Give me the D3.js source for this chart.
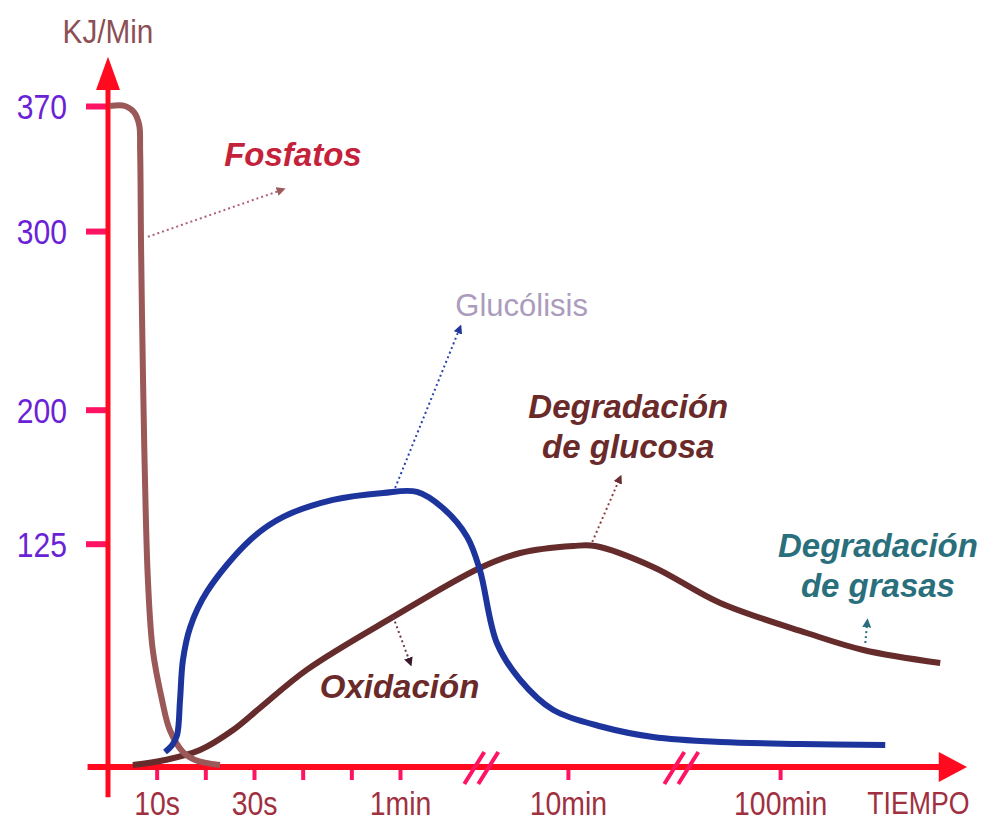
<!DOCTYPE html>
<html>
<head>
<meta charset="utf-8">
<script src="https://cdn.jsdelivr.net/npm/d3@7"></script>
<style>
  body { margin: 0; background: #fff; }
  svg { display: block; }
  .narrow { font-family: "Liberation Sans", Arial, sans-serif; }
  .lbl { font-family: "Liberation Sans", Arial, sans-serif; font-weight: bold; font-style: italic; }
</style>
</head>
<body>
<svg id="chart"></svg>
<script>
// time axis is in "tick units": 1 tick = 10 s up to 1 min, then broken axis
const timeTicks = [1, 2, 3, 4, 5, 6, 9.45, 13.81];
const timeLabels = ["10s", "", "30s", "", "", "1min", "10min", "100min"];
const axisBreaks = [7.67, 11.78];

const energyTicks = [125, 200, 300, 370];

// [time position, KJ/min]
const fosfatos = [
  [0.04, 370], [0.35, 370], [0.53, 366.7], [0.64, 359.5], [0.66, 345.5],
  [0.68, 289.5], [0.72, 216.7], [0.76, 160.7], [0.82, 104.7], [0.92, 65.5],
  [1.11, 37.5], [1.27, 20.7], [1.54, 8.4], [1.79, 3.9], [2.3, 1.1]
];
const glucolisis = [
  [1.17, 8.4], [1.32, 12.3], [1.42, 17.9], [1.48, 37.5], [1.54, 59.9],
  [1.69, 78.4], [2.03, 98], [2.92, 127.1], [3.6, 140], [4.62, 149.5],
  [5.65, 153.4], [6.35, 154], [6.88, 145], [7.38, 128.8], [7.64, 110.3],
  [7.99, 69.4], [8.47, 48.7], [9.15, 31.9], [10.17, 22.4], [11.2, 16.8],
  [12.58, 14], [14.22, 12.9], [15.97, 12.3]
];
const oxidacion = [
  [0.51, 1.1], [1.17, 3.9], [1.89, 9.5], [2.57, 20.7], [3.12, 33],
  [4.09, 54.5], [5.86, 84], [7.64, 111.4], [8.47, 119.8], [9.56, 123.7],
  [10.01, 123.7], [11.2, 112], [12.58, 91.8], [14.36, 75], [15.52, 65.5],
  [17.1, 58.2]
];

// annotation arrows: from [t, kj] to [t, kj]
const arrows = [
  { from: [0.82, 296.8], to: [3.58, 323.1], color: "#b0607a", head: "#9c5a5a" },
  { from: [5.9, 156.2], to: [7.23, 245.8], color: "#2a44a8", head: "#1f3799" },
  { from: [9.95, 126], to: [10.52, 161.8], color: "#8a4040", head: "#6b2f2f" },
  { from: [5.86, 84], to: [6.21, 58.2], color: "#6b3a4a", head: "#3a1a2a" },
  { from: [15.56, 69.4], to: [15.6, 81.2], color: "#2a6f7c", head: "#2a6f7c" }
];

const labels = [
  { lines: ["Fosfatos"], t: 3.8, kj: 336.5, color: "#c4223a", bold: true },
  { lines: ["Glucólisis"], t: 8.5, kj: 252.5, color: "#ab9cbd", bold: false },
  { lines: ["Degradación", "de glucosa"], t: 10.69, kj: 195.4, color: "#6b2a2a", bold: true },
  { lines: ["Degradación", "de grasas"], t: 15.82, kj: 117.6, color: "#2a6f7c", bold: true },
  { lines: ["Oxidación"], t: 5.99, kj: 38.6, color: "#6b2a2a", bold: true }
];

var width = 987,
  height = 823;
var svg = d3.select("#chart").attr("width", width).attr("height", height);

var x = d3.scaleLinear().domain([0, 17.65]).range([108, 967]);
var y = d3.scaleLinear().domain([0, 370]).range([767, 106]);

var axisRed = "#ff0a1e",
  tickPink = "#ff1464";

// squeeze a text horizontally so it looks like a narrow font
function narrow(sel, k) {
  sel.each(function () {
    var w = this.getComputedTextLength();
    if (w > 0) {
      d3.select(this)
        .attr("textLength", w * k)
        .attr("lengthAdjust", "spacingAndGlyphs");
    }
  });
}

// arrow markers
var defs = svg.append("defs");
arrows.forEach(function (a, i) {
  defs
    .append("marker")
    .attr("id", "head" + i)
    .attr("viewBox", "0 0 10 10")
    .attr("refX", 6)
    .attr("refY", 5)
    .attr("markerWidth", 9)
    .attr("markerHeight", 9)
    .attr("markerUnits", "userSpaceOnUse")
    .attr("orient", "auto")
    .append("path")
    .attr("d", "M0,0 L10,5 L0,10 Z")
    .attr("fill", a.head);
});

// y ticks + labels
var yAxis = svg
  .append("g")
  .attr("transform", "translate(" + x(0) + ",0)")
  .call(d3.axisLeft(y).tickValues(energyTicks).tickSize(22).tickPadding(19));
yAxis.select(".domain").remove();
yAxis.selectAll(".tick line").attr("stroke", tickPink).attr("stroke-width", 6);
yAxis
  .selectAll(".tick text")
  .attr("class", "narrow")
  .attr("fill", "#6a22d6")
  .attr("font-size", 35)
  .attr("dy", "0.36em")
  .call(narrow, 0.86);

// x ticks + labels
var xAxis = svg
  .append("g")
  .attr("transform", "translate(0," + y(0) + ")")
  .call(
    d3
      .axisBottom(x)
      .tickValues(timeTicks)
      .tickSize(13)
      .tickFormat(function (d, i) {
        return timeLabels[i];
      })
  );
xAxis.select(".domain").remove();
xAxis.selectAll(".tick line").attr("stroke", tickPink).attr("stroke-width", 4);
xAxis
  .selectAll(".tick text")
  .attr("class", "narrow")
  .attr("fill", "#a03040")
  .attr("font-size", 33)
  .attr("y", 48)
  .attr("dy", 0)
  .call(narrow, 0.86);

// axis lines with arrowheads
svg
  .append("line")
  .attr("x1", x(0))
  .attr("x2", x(0))
  .attr("y1", y(-17))
  .attr("y2", y(388))
  .attr("stroke", axisRed)
  .attr("stroke-width", 5);
svg
  .append("path")
  .attr(
    "d",
    "M" + x(0) + "," + y(397.5) +
      "L" + (x(0) - 12) + "," + y(379) +
      "L" + (x(0) + 12) + "," + y(379) + "Z"
  )
  .attr("fill", axisRed);

svg
  .append("line")
  .attr("x1", x(-0.42))
  .attr("x2", x(17.2))
  .attr("y1", y(0))
  .attr("y2", y(0))
  .attr("stroke", axisRed)
  .attr("stroke-width", 6);
svg
  .append("path")
  .attr(
    "d",
    "M" + x(17.65) + "," + y(0) +
      "L" + x(17.07) + "," + (y(0) - 15) +
      "L" + x(17.07) + "," + (y(0) + 15) + "Z"
  )
  .attr("fill", axisRed);

// axis break marks //
axisBreaks.forEach(function (b) {
  [-7, 7].forEach(function (off) {
    svg
      .append("line")
      .attr("x1", x(b) + off - 10)
      .attr("y1", y(0) + 17)
      .attr("x2", x(b) + off + 10)
      .attr("y2", y(0) - 15)
      .attr("stroke", tickPink)
      .attr("stroke-width", 4);
  });
});

// TIEMPO and KJ/Min
svg
  .append("text")
  .attr("class", "narrow")
  .attr("x", x(16.65))
  .attr("y", y(0) + 47)
  .attr("text-anchor", "middle")
  .attr("font-size", 31)
  .attr("fill", "#a03040")
  .text("TIEMPO")
  .call(narrow, 0.86);
svg
  .append("text")
  .attr("class", "narrow")
  .attr("x", x(0))
  .attr("y", y(405.4))
  .attr("text-anchor", "middle")
  .attr("font-size", 33)
  .attr("fill", "#8c4f55")
  .text("KJ/Min")
  .call(narrow, 0.9);

// curves
var line = d3
  .line()
  .x(function (d) { return x(d[0]); })
  .y(function (d) { return y(d[1]); })
  .curve(d3.curveCatmullRom.alpha(0.5));

svg.append("path").datum(oxidacion).attr("d", line)
  .attr("fill", "none").attr("stroke", "#662c2c").attr("stroke-width", 6);
svg.append("path").datum(fosfatos).attr("d", line)
  .attr("fill", "none").attr("stroke", "#9b5858").attr("stroke-width", 6);
svg.append("path").datum(glucolisis).attr("d", line)
  .attr("fill", "none").attr("stroke", "#1c349c").attr("stroke-width", 6);

// dotted arrows
arrows.forEach(function (a, i) {
  svg
    .append("line")
    .attr("x1", x(a.from[0]))
    .attr("y1", y(a.from[1]))
    .attr("x2", x(a.to[0]))
    .attr("y2", y(a.to[1]))
    .attr("stroke", a.color)
    .attr("stroke-width", 2)
    .attr("stroke-dasharray", "2,3")
    .attr("marker-end", "url(#head" + i + ")");
});

// labels
labels.forEach(function (l) {
  var t = svg
    .append("text")
    .attr("class", l.bold ? "lbl" : "")
    .attr("font-family", "Liberation Sans, Arial, sans-serif")
    .attr("x", x(l.t))
    .attr("y", y(l.kj))
    .attr("text-anchor", "middle")
    .attr("font-size", l.bold ? 33 : 31)
    .attr("fill", l.color);
  l.lines.forEach(function (s, j) {
    t.append("tspan").attr("x", x(l.t)).attr("dy", j === 0 ? 0 : 40).text(s);
  });
});
</script>
</body>
</html>
